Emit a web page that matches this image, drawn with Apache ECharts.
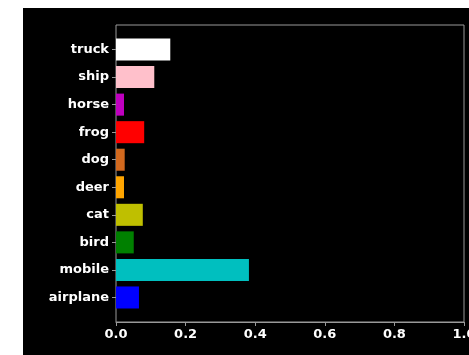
<!DOCTYPE html>
<html>
<head>
<meta charset="utf-8">
<script src="https://cdn.jsdelivr.net/npm/echarts@6/dist/echarts.min.js"></script>
<style>
  html, body { margin: 0; padding: 0; background: #fff; }
  #chart { position: absolute; left: 23px; top: 8px; width: 446px; height: 347px; background: #000; }
</style>
</head>
<body>
<div id="chart"></div>
<script>
// categories from bottom to top
const categories = ['airplane', 'mobile', 'bird', 'cat', 'deer', 'dog', 'frog', 'horse', 'ship', 'truck']
const values = [0.066, 0.382, 0.051, 0.077, 0.023, 0.025, 0.081, 0.023, 0.11, 0.156]
const barColors = ['#0000ff', '#00bfbf', '#008000', '#bfbf00', '#ffa500', '#d2691e', '#ff0000', '#bf00bf', '#ffc0cb', '#ffffff']
const xTicks = [0, 0.2, 0.4, 0.6, 0.8, 1.0]

const chart = echarts.init(document.getElementById('chart'))

const labelFont = {
  color: '#fff',
  fontFamily: 'DejaVu Sans',
  fontWeight: 'bold',
  fontSize: 13
}

const option = {
  animation: false,
  grid: [
    // frame
    { left: 93, right: 5, top: 17, bottom: 33, show: true, borderColor: '#999', borderWidth: 1, outerBoundsMode: 'none', containLabel: false },
    // data area (inset like matplotlib margins)
    { left: 93, right: 5, top: 27.75, bottom: 43.75, outerBoundsMode: 'none', containLabel: false }
  ],
  xAxis: [
    { gridIndex: 0, type: 'value', min: 0, max: 1, show: false },
    {
      gridIndex: 1,
      type: 'value',
      min: 0,
      max: 1,
      interval: 0.2,
      offset: 10.75,
      axisLine: { show: true, lineStyle: { color: '#999' } },
      axisTick: { show: true, length: 4, lineStyle: { color: '#999' } },
      splitLine: { show: false },
      axisLabel: {
        ...labelFont,
        margin: 6,
        showMaxLabel: true,
        alignMinLabel: 'center',
        alignMaxLabel: 'center',
        hideOverlap: false,
        formatter: v => xTicks.includes(+v.toFixed(1)) ? v.toFixed(1) : ''
      }
    }
  ],
  yAxis: [
    { gridIndex: 0, type: 'value', show: false },
    {
      gridIndex: 1,
      type: 'category',
      data: categories,
      axisLine: { show: false },
      axisTick: { show: true, length: 4, alignWithLabel: true, lineStyle: { color: '#999' } },
      axisLabel: { ...labelFont, margin: 7 }
    }
  ],
  series: [{
    type: 'bar',
    xAxisIndex: 1,
    yAxisIndex: 1,
    barWidth: '80%',
    data: values.map((v, i) => ({
      value: v,
      itemStyle: { color: barColors[i] }
    }))
  }]
}

chart.setOption(option)
</script>
</body>
</html>
